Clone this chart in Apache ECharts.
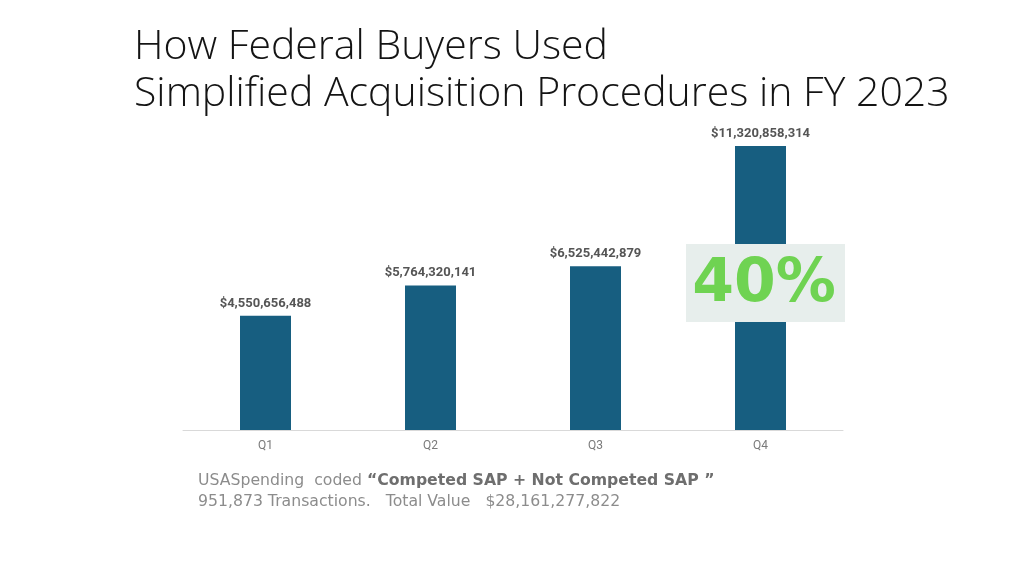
<!DOCTYPE html>
<html>
<head>
<meta charset="utf-8">
<script src="https://cdn.jsdelivr.net/npm/echarts@6/dist/echarts.min.js"></script>
<style>
  html, body { margin: 0; padding: 0; background: #fff; }
  #main { width: 1024px; height: 563px; }
</style>
</head>
<body>
<div id="main"></div>
<script>
// quarters and SAP dollar values, FY 2023
var quarters = ['Q1', 'Q2', 'Q3', 'Q4'];
var sapValues = [4550656488, 5764320141, 6525442879, 11320858314];
var titleLines = ['How Federal Buyers Used', 'Simplified Acquisition Procedures in FY 2023'];
var shareLabel = '40%';

function money(v) {
    return '$' + v.toLocaleString('en-US');
}

var chart = echarts.init(document.getElementById('main'));

var option = {
    backgroundColor: '#ffffff',
    animation: false,
    grid: {
        left: 183,
        right: 181,
        top: 129,
        bottom: 133
    },
    xAxis: {
        type: 'category',
        data: quarters,
        axisLine: { lineStyle: { color: '#d9d9d9', width: 1 } },
        axisTick: { show: false },
        axisLabel: {
            color: '#7a7a7a',
            fontSize: 12,
            fontFamily: 'Roboto',
            margin: 10
        }
    },
    yAxis: {
        type: 'value',
        min: 0,
        max: 12000000000,
        show: false,
        splitLine: { show: false }
    },
    series: [
        {
            name: 'SAP',
            type: 'bar',
            data: sapValues,
            barWidth: 51,
            itemStyle: { color: '#175e80' },
            label: {
                show: true,
                position: 'top',
                distance: 6,
                color: '#555555',
                fontSize: 13,
                fontWeight: 'bold',
                fontFamily: 'Roboto',
                formatter: function (p) { return money(p.value); }
            }
        }
    ]
};

chart.setOption(option);

chart.setOption({
    graphic: [
        {
            type: 'text',
            left: 134,
            top: 24,
            style: {
                text: titleLines.join('\n'),
                fill: '#141414',
                font: '300 41px "Open Sans"',
                lineHeight: 47
            }
        },
        {
            type: 'rect',
            shape: { x: 686, y: 244, width: 159, height: 78 },
            style: { fill: '#e7eeec' },
            z: 10
        },
        {
            type: 'text',
            x: 764,
            y: 285,
            style: {
                text: shareLabel,
                fill: '#6fd352',
                font: 'bold 60px "DejaVu Sans"',
                align: 'center',
                verticalAlign: 'middle'
            },
            z: 11
        },
        {
            type: 'text',
            left: 198,
            top: 473,
            style: {
                text: '{n|USASpending  coded }{b|\u201cCompeted SAP + Not Competed SAP \u201d}\n{n|951,873 Transactions.   Total Value   $28,161,277,822}',
                rich: {
                    n: { fill: '#8c8c8c', fontSize: 15.7, fontFamily: 'DejaVu Sans', lineHeight: 21 },
                    b: { fill: '#6e6e6e', fontSize: 15.7, fontFamily: 'DejaVu Sans', fontWeight: 'bold', lineHeight: 21 }
                }
            }
        }
    ]
});
</script>
</body>
</html>
